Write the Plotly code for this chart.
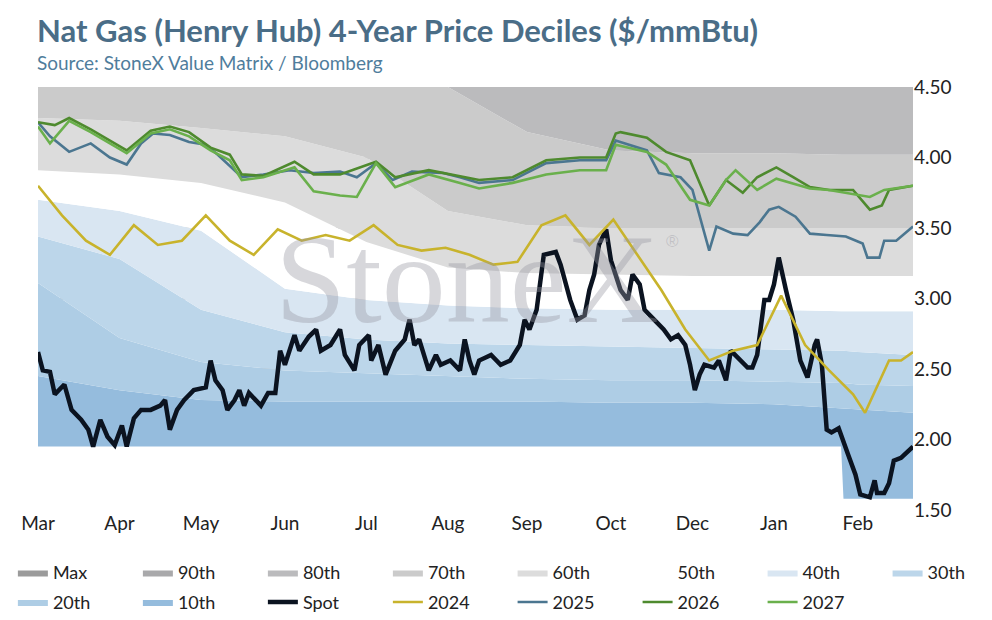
import plotly.graph_objects as go

# x axis = day index within the season (0 = start of Mar)
month_ticks = [0, 34, 68, 103, 137, 171, 204, 239, 273, 307, 342]
month_labels = ["Mar", "Apr", "May", "Jun", "Jul", "Aug", "Sep", "Oct", "Dec", "Jan", "Feb"]

band_days = [0, 34, 68, 103, 137, 171, 204, 239, 273, 307, 335, 336, 342, 365]
dec_min = [1.95, 1.95, 1.95, 1.95, 1.95, 1.95, 1.95, 1.95, 1.95, 1.95, 1.95, 1.58, 1.58, 1.58]
dec_10 = [2.45, 2.35, 2.28, 2.27, 2.27, 2.27, 2.27, 2.26, 2.26, 2.25, 2.22, 2.22, 2.21, 2.19]
dec_20 = [3.11, 2.72, 2.55, 2.49, 2.47, 2.45, 2.43, 2.42, 2.42, 2.41, 2.40, 2.40, 2.39, 2.38]
dec_30 = [3.44, 3.28, 2.92, 2.76, 2.71, 2.68, 2.67, 2.66, 2.65, 2.64, 2.63, 2.63, 2.62, 2.60]
dec_40 = [3.70, 3.62, 3.48, 3.07, 2.99, 2.95, 2.93, 2.92, 2.92, 2.92, 2.91, 2.91, 2.91, 2.91]
dec_50 = [3.91, 3.88, 3.82, 3.68, 3.40, 3.22, 3.18, 3.17, 3.16, 3.16, 3.16, 3.16, 3.16, 3.16]
dec_60 = [4.28, 4.26, 4.21, 4.15, 4.00, 3.62, 3.52, 3.50, 3.50, 3.50, 3.50, 3.50, 3.50, 3.50]
dec_70 = [4.52, 4.52, 4.52, 4.52, 4.51, 4.50, 4.18, 4.05, 4.03, 4.03, 4.02, 4.02, 4.02, 4.02]
dec_80 = [4.70] * 14
dec_90 = [4.85] * 14
dec_max = [5.00] * 14

spot_days = [0, 2, 5, 7, 11, 14, 18, 21, 23, 26, 29, 32, 35, 37, 40, 43, 47, 51, 53, 55, 58, 61, 65, 70, 72, 74, 77, 79, 82, 84, 86, 88, 93, 96, 99, 101, 103, 107, 109, 113, 116, 118, 122, 126, 128, 132, 134, 138, 139, 142, 145, 149, 153, 155, 157, 159, 163, 166, 168, 172, 176, 178, 180, 182, 184, 189, 193, 197, 201, 203, 205, 208, 211, 216, 218, 222, 225, 228, 230, 232, 234, 237, 239, 243, 246, 248, 251, 253, 257, 261, 264, 267, 270, 272, 274, 276, 278, 282, 284, 287, 289, 293, 296, 298, 300, 303, 305, 307, 309, 312, 315, 318, 321, 324, 325, 327, 329, 331, 334, 338, 341, 343, 347, 349, 350, 353, 355, 357, 360, 365]
spot = [2.62, 2.49, 2.48, 2.32, 2.39, 2.21, 2.14, 2.07, 1.95, 2.14, 2.02, 1.96, 2.10, 1.95, 2.15, 2.21, 2.21, 2.24, 2.28, 2.07, 2.21, 2.28, 2.35, 2.37, 2.56, 2.42, 2.35, 2.21, 2.28, 2.35, 2.24, 2.33, 2.24, 2.33, 2.33, 2.63, 2.53, 2.74, 2.63, 2.73, 2.78, 2.63, 2.67, 2.78, 2.60, 2.49, 2.67, 2.74, 2.56, 2.67, 2.46, 2.63, 2.71, 2.85, 2.67, 2.71, 2.49, 2.60, 2.53, 2.56, 2.49, 2.71, 2.56, 2.46, 2.56, 2.60, 2.53, 2.56, 2.67, 2.85, 2.78, 2.92, 3.31, 3.33, 3.24, 2.99, 2.85, 2.88, 3.06, 3.17, 3.38, 3.49, 3.27, 3.06, 2.99, 3.17, 3.10, 2.92, 2.85, 2.78, 2.71, 2.74, 2.67, 2.53, 2.35, 2.46, 2.53, 2.51, 2.56, 2.42, 2.63, 2.56, 2.51, 2.51, 2.60, 2.99, 2.99, 3.10, 3.29, 3.06, 2.85, 2.56, 2.44, 2.67, 2.71, 2.53, 2.07, 2.05, 2.08, 1.89, 1.75, 1.61, 1.59, 1.71, 1.62, 1.62, 1.69, 1.85, 1.87, 1.95]

y2024_days = [0, 10, 20, 30, 40, 50, 60, 70, 80, 90, 100, 110, 120, 130, 140, 150, 160, 170, 180, 190, 200, 210, 220, 230, 240, 250, 260, 270, 280, 290, 300, 310, 320, 330, 340, 345, 350, 355, 360, 365]
y2024 = [3.80, 3.59, 3.41, 3.31, 3.52, 3.38, 3.41, 3.59, 3.41, 3.31, 3.49, 3.41, 3.45, 3.41, 3.52, 3.38, 3.34, 3.36, 3.31, 3.24, 3.26, 3.52, 3.59, 3.38, 3.56, 3.31, 3.06, 2.78, 2.56, 2.63, 2.67, 3.02, 2.67, 2.49, 2.32, 2.19, 2.37, 2.56, 2.56, 2.62]

y2025_days = [0, 5, 13, 22, 30, 37, 43, 48, 55, 63, 70, 75, 85, 94, 105, 115, 126, 133, 141, 148, 156, 169, 176, 184, 198, 212, 226, 237, 241, 254, 259, 268, 273, 276, 280, 283, 290, 296, 301, 305, 309, 316, 322, 329, 337, 344, 346, 351, 353, 358, 365]
y2025 = [4.25, 4.15, 4.04, 4.10, 4.00, 3.95, 4.10, 4.17, 4.16, 4.11, 4.09, 4.02, 3.86, 3.88, 3.91, 3.89, 3.90, 3.86, 3.96, 3.84, 3.90, 3.89, 3.86, 3.82, 3.84, 3.96, 3.98, 3.98, 4.12, 4.05, 3.89, 3.86, 3.77, 3.58, 3.34, 3.51, 3.46, 3.45, 3.54, 3.63, 3.65, 3.58, 3.46, 3.45, 3.44, 3.39, 3.29, 3.29, 3.41, 3.41, 3.51]

y2026_days = [0, 7, 13, 22, 30, 37, 47, 55, 63, 72, 80, 85, 94, 107, 115, 126, 141, 149, 163, 176, 184, 198, 212, 226, 237, 241, 243, 254, 262, 272, 280, 287, 294, 300, 308, 315, 322, 330, 340, 347, 352, 355, 365]
y2026 = [4.25, 4.23, 4.28, 4.20, 4.12, 4.05, 4.19, 4.22, 4.18, 4.07, 4.02, 3.88, 3.87, 3.97, 3.88, 3.88, 3.97, 3.86, 3.91, 3.87, 3.84, 3.86, 3.98, 4.00, 4.00, 4.17, 4.18, 4.14, 4.04, 3.98, 3.66, 3.84, 3.75, 3.86, 3.93, 3.86, 3.79, 3.77, 3.77, 3.63, 3.66, 3.77, 3.80]

y2027_days = [0, 5, 13, 22, 30, 37, 47, 55, 63, 72, 80, 85, 94, 107, 115, 126, 133, 141, 149, 163, 176, 184, 198, 212, 226, 237, 241, 254, 262, 272, 280, 287, 291, 300, 308, 322, 330, 347, 353, 365]
y2027 = [4.22, 4.10, 4.26, 4.18, 4.10, 4.03, 4.17, 4.20, 4.15, 4.05, 3.98, 3.84, 3.86, 3.93, 3.76, 3.73, 3.72, 3.96, 3.79, 3.88, 3.82, 3.78, 3.82, 3.88, 3.91, 3.91, 4.09, 4.04, 3.95, 3.70, 3.66, 3.84, 3.91, 3.77, 3.85, 3.78, 3.77, 3.72, 3.77, 3.80]

fig = go.Figure()

fig.add_trace(go.Scatter(x=band_days, y=dec_min, mode="lines", line=dict(width=0),
                         showlegend=False, hoverinfo="skip"))
bands = [
    ("10th", dec_10, "#95bcdd"), ("20th", dec_20, "#aecde5"), ("30th", dec_30, "#bcd6ea"),
    ("40th", dec_40, "#d9e6f2"), ("50th", dec_50, "#ffffff"), ("60th", dec_60, "#dcdcdc"),
    ("70th", dec_70, "#cbcbcb"), ("80th", dec_80, "#bbbbbd"), ("90th", dec_90, "#a9a9ab"),
    ("Max", dec_max, "#9b9b9b"),
]
legend_of = {"Max": "legend", "90th": "legend", "80th": "legend", "70th": "legend",
             "60th": "legend2", "50th": "legend2", "40th": "legend2", "30th": "legend2",
             "20th": "legend3", "10th": "legend3", "Spot": "legend3", "2024": "legend3",
             "2025": "legend4", "2026": "legend4", "2027": "legend4"}
for i, (name, vals, col) in enumerate(bands):
    fig.add_trace(go.Scatter(x=band_days, y=vals, name=name, mode="lines",
                             line=dict(width=0, color=col), fill="tonexty", fillcolor=col,
                             legendrank=100 - i, legend=legend_of[name]))

lines = [
    ("Spot", spot_days, spot, "#0b1320", 4.5),
    ("2024", y2024_days, y2024, "#c8b32c", 2.6),
    ("2025", y2025_days, y2025, "#4b7690", 2.6),
    ("2026", y2026_days, y2026, "#4e8a2e", 2.6),
    ("2027", y2027_days, y2027, "#6ab04c", 2.6),
]
for i, (name, d, v, col, w) in enumerate(lines):
    fig.add_trace(go.Scatter(x=d, y=v, name=name, mode="lines",
                             line=dict(color=col, width=w), legendrank=200 + i,
                             legend=legend_of[name]))

fig.add_annotation(x=0.49, y=0.545, xref="paper", yref="paper", text="StoneX",
                   showarrow=False, font=dict(family="Liberation Serif", size=128, color="rgba(150,150,160,0.38)"))
fig.add_annotation(x=0.735, y=0.635, xref="paper", yref="paper", text="®",
                   showarrow=False, font=dict(family="Liberation Sans", size=17, color="rgba(150,150,160,0.38)"))
fig.add_annotation(x=-0.004, y=1.135, xref="paper", yref="paper", xanchor="left", yanchor="middle",
                   text="<b>Nat Gas (Henry Hub) 4-Year Price Deciles ($/mmBtu)</b>", showarrow=False,
                   font=dict(family="Lato", size=31, color="#4a6d87"))
fig.add_annotation(x=-0.004, y=1.059, xref="paper", yref="paper", xanchor="left", yanchor="middle",
                   text="Source: StoneX Value Matrix / Bloomberg", showarrow=False,
                   font=dict(family="Lato", size=19, color="#4f7d9c"))

leg_common = dict(orientation="h", xref="container", yref="container", xanchor="left",
                  yanchor="middle", entrywidth=80, font=dict(size=18, color="#222"),
                  traceorder="normal", itemwidth=30, bgcolor="rgba(0,0,0,0)")
fig.update_layout(
    width=976, height=604,
    margin=dict(l=30, r=71, t=79, b=102),
    paper_bgcolor="white", plot_bgcolor="white",
    font=dict(family="Lato", color="#222"),
    xaxis=dict(range=[0, 365], tickvals=month_ticks, ticktext=month_labels, showgrid=False,
               zeroline=False, ticks="", tickfont=dict(size=19, color="#222"), showline=False),
    yaxis=dict(range=[1.5, 4.5], side="right", dtick=0.5, tickformat=".2f",
               gridcolor="#c4c4c4", gridwidth=1.5, zeroline=False,
               tickfont=dict(size=19, color="#222"), layer="above traces"),
    legend=dict(x=0.005, y=0.065, **leg_common),
    legend2=dict(x=0.517, y=0.065, **leg_common),
    legend3=dict(x=0.005, y=0.016, **leg_common),
    legend4=dict(x=0.517, y=0.016, **leg_common),
)
fig.write_html("out.html")
